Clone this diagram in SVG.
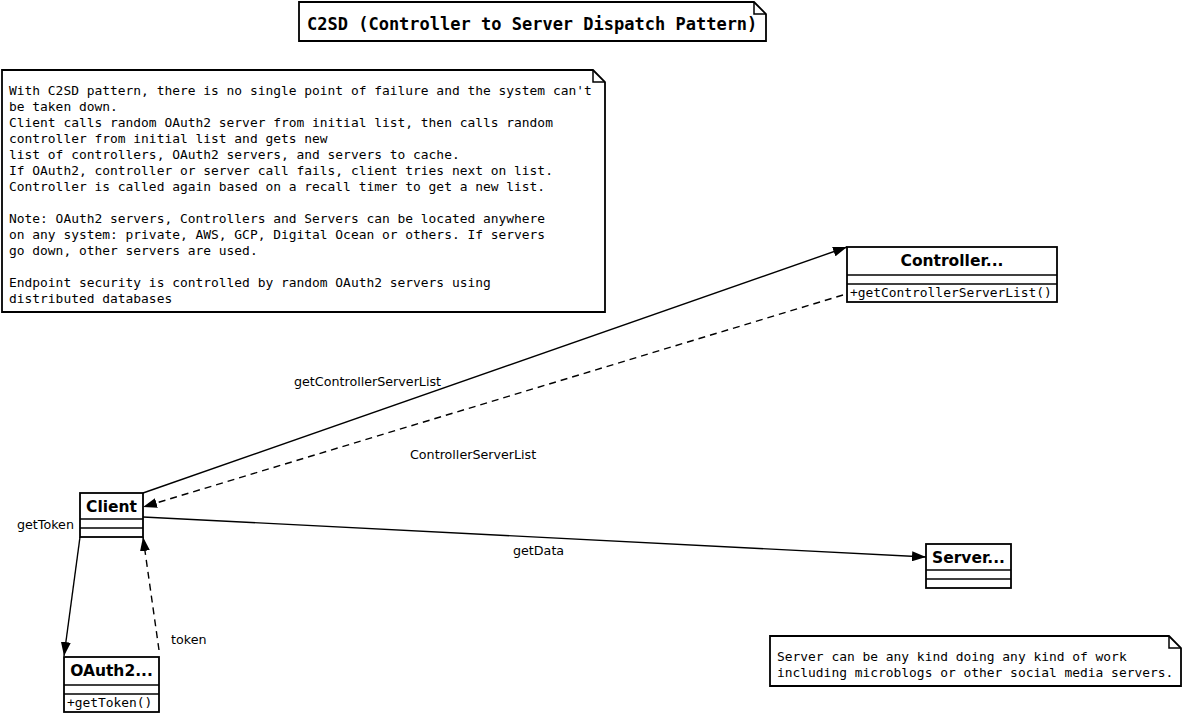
<svg xmlns="http://www.w3.org/2000/svg" width="1182" height="714" viewBox="0 0 1182 714">
<style>
.box{fill:#fff;stroke:#000;stroke-width:1.8}
.ln{stroke:#000;stroke-width:1.5;fill:none}
.mono{font-family:"DejaVu Sans Mono","Liberation Mono",monospace;font-size:12.92px;fill:#000}
.title{font-family:"DejaVu Sans Mono","Liberation Mono",monospace;font-size:17px;font-weight:bold;fill:#000}
.cls{font-family:"DejaVu Sans","Liberation Sans",sans-serif;font-size:15.5px;font-weight:bold;fill:#000;text-anchor:middle}
.meth{font-family:"DejaVu Sans Mono","Liberation Mono",monospace;font-size:12.9px;fill:#000}
.lbl{font-family:"DejaVu Sans","Liberation Sans",sans-serif;font-size:12.7px;fill:#000}
.edge{stroke:#000;stroke-width:1.4;fill:none;marker-end:url(#arr)}
.dash{stroke-dasharray:7 5}
</style>
<defs>
<marker id="arr" viewBox="0 0 14 10" refX="14" refY="5" markerWidth="14" markerHeight="10" orient="auto" markerUnits="userSpaceOnUse">
<path d="M0,0 L14,5 L0,10 z" fill="#000"/>
</marker>
</defs>
<rect width="1182" height="714" fill="#fff"/>

<g id="title-note">
<path class="box" d="M299,2 H754 L766,14 V41 H299 Z"/>
<path class="ln" d="M754,2 V14 H766"/>
<text class="title" x="307" y="30">C2SD (Controller to Server Dispatch Pattern)</text>
</g>

<g id="main-note">
<path class="box" d="M2,70 H593 L605,82 V312 H2 Z"/>
<path class="ln" d="M593,70 V82 H605"/>
<text class="mono" x="9" y="95">With C2SD pattern, there is no single point of failure and the system can't</text>
<text class="mono" x="9" y="111">be taken down.</text>
<text class="mono" x="9" y="127">Client calls random OAuth2 server from initial list, then calls random</text>
<text class="mono" x="9" y="143">controller from initial list and gets new</text>
<text class="mono" x="9" y="159">list of controllers, OAuth2 servers, and servers to cache.</text>
<text class="mono" x="9" y="175">If OAuth2, controller or server call fails, client tries next on list.</text>
<text class="mono" x="9" y="191">Controller is called again based on a recall timer to get a new list.</text>
<text class="mono" x="9" y="223">Note: OAuth2 servers, Controllers and Servers can be located anywhere</text>
<text class="mono" x="9" y="239">on any system: private, AWS, GCP, Digital Ocean or others. If servers</text>
<text class="mono" x="9" y="255">go down, other servers are used.</text>
<text class="mono" x="9" y="287">Endpoint security is controlled by random OAuth2 servers using</text>
<text class="mono" x="9" y="303">distributed databases</text>
</g>

<g id="server-note">
<path class="box" d="M770,636 H1169 L1181,648 V686 H770 Z"/>
<path class="ln" d="M1169,636 V648 H1181"/>
<text class="mono" x="777" y="661">Server can be any kind doing any kind of work</text>
<text class="mono" x="777" y="677">including microblogs or other social media servers.</text>
</g>

<g id="controller">
<rect class="box" x="847" y="247" width="210" height="55"/>
<line class="ln" x1="847" y1="275" x2="1057" y2="275"/>
<line class="ln" x1="847" y1="284" x2="1057" y2="284"/>
<text class="cls" x="952" y="266">Controller...</text>
<text class="meth" x="850" y="297">+getControllerServerList()</text>
</g>

<g id="client">
<rect class="box" x="80" y="493" width="63" height="44"/>
<line class="ln" x1="80" y1="519" x2="143" y2="519"/>
<line class="ln" x1="80" y1="528" x2="143" y2="528"/>
<text class="cls" x="111.5" y="512">Client</text>
</g>

<g id="server">
<rect class="box" x="926" y="544" width="85" height="44"/>
<line class="ln" x1="926" y1="570" x2="1011" y2="570"/>
<line class="ln" x1="926" y1="579" x2="1011" y2="579"/>
<text class="cls" x="968.5" y="563">Server...</text>
</g>

<g id="oauth2">
<rect class="box" x="64" y="657" width="95" height="55"/>
<line class="ln" x1="64" y1="685" x2="159" y2="685"/>
<line class="ln" x1="64" y1="694" x2="159" y2="694"/>
<text class="cls" x="111.5" y="676">OAuth2...</text>
<text class="meth" x="67" y="707">+getToken()</text>
</g>

<g id="connectors">
<line class="edge" x1="143" y1="493" x2="847" y2="247"/>
<line class="edge dash" x1="843" y1="295" x2="143" y2="507"/>
<line class="edge" x1="143" y1="517" x2="926" y2="557"/>
<line class="edge" x1="80" y1="537" x2="64" y2="656"/>
<line class="edge dash" x1="159" y1="650" x2="143" y2="537"/>
<text class="lbl" x="294" y="386">getControllerServerList</text>
<text class="lbl" x="410" y="459">ControllerServerList</text>
<text class="lbl" x="513" y="555">getData</text>
<text class="lbl" x="17" y="529">getToken</text>
<text class="lbl" x="171" y="644">token</text>
</g>
</svg>
